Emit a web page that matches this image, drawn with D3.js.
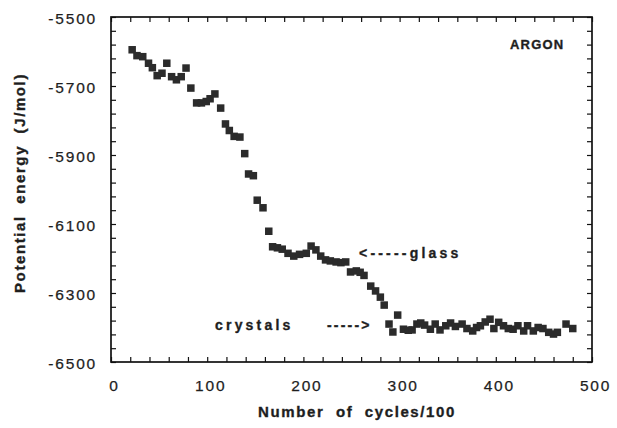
<!DOCTYPE html>
<html><head><meta charset="utf-8">
<script src="https://cdn.jsdelivr.net/npm/d3@7"></script>
<style>
html,body{margin:0;padding:0;background:#fff;}
svg{display:block;font-family:"Liberation Sans",Arial,Helvetica,sans-serif;}
</style></head>
<body>
<svg id="chart" width="617" height="428"></svg>
<script>
// Data
const cycles = [22,27,33,39,43,48,53,58,63,68,73,78,83,89,94,99,103,108,114,119,
  123,128,134,139,143,148,152,158,164,168,173,178,184,190,196,203,208,213,218,223,
  228,234,239,244,249,255,259,263,270,275,280,284,289,293,298,304,309,313,318,322,
  326,332,337,342,348,353,358,365,370,376,380,384,389,394,398,403,408,413,418,423,
  429,433,439,444,449,455,460,464,473,480];
const energy = [-5595,-5612,-5615,-5634,-5647,-5670,-5663,-5634,-5673,-5682,-5673,-5648,-5706,-5749,-5749,-5745,-5737,-5723,-5764,-5810,
  -5829,-5846,-5848,-5896,-5955,-5960,-6031,-6053,-6121,-6166,-6169,-6173,-6185,-6193,-6188,-6185,-6164,-6175,-6193,-6204,
  -6207,-6210,-6212,-6210,-6239,-6236,-6240,-6249,-6280,-6294,-6312,-6335,-6390,-6413,-6364,-6405,-6408,-6407,-6390,-6387,
  -6393,-6405,-6390,-6407,-6395,-6387,-6397,-6390,-6403,-6410,-6400,-6395,-6384,-6376,-6403,-6385,-6395,-6403,-6405,-6395,
  -6410,-6395,-6410,-6400,-6403,-6414,-6419,-6414,-6390,-6403];
const xTickLabels = [0,100,200,300,400,500];
const yTickLabels = [-5500,-5700,-5900,-6100,-6300,-6500];
const xTitle = "Number  of  cycles/100";
const yTitle = "Potential  energy  (J/mol)";
const labelArgon = "ARGON";
const labelGlass = "<-----glass";
const labelCrystals = "crystals";
const arrowCrystals = "----->";

const svg = d3.select("#chart");
const L = 111, R = 592, T = 17, B = 362;
const x = d3.scaleLinear().domain([0,500]).range([L,R]);
const y = d3.scaleLinear().domain([-6500,-5500]).range([B,T]);

const xTicks = d3.range(0,501,20);
const yTicks = d3.range(-6500,-5499,40);

const gb = svg.append("g").attr("transform",`translate(0,${B})`)
  .call(d3.axisBottom(x).tickValues(xTicks).tickSize(-5).tickPadding(18)
    .tickFormat(d => xTickLabels.includes(d) ? d : ""));
const gt = svg.append("g").attr("transform",`translate(0,${T})`)
  .call(d3.axisTop(x).tickValues(xTicks).tickSize(-5).tickFormat(""));
const gl = svg.append("g").attr("transform",`translate(${L},0)`)
  .call(d3.axisLeft(y).tickValues(yTicks).tickSize(-5).tickPadding(14)
    .tickFormat(d => yTickLabels.includes(d) ? d : ""));
const gr = svg.append("g").attr("transform",`translate(${R},0)`)
  .call(d3.axisRight(y).tickValues(yTicks).tickSize(-5).tickFormat(""));

[gb,gt,gl,gr].forEach(g => {
  g.select(".domain").remove();
  g.selectAll(".tick line").attr("stroke","#111").attr("stroke-width",1.2);
});
[gb,gl].forEach(g => g.selectAll(".tick text").attr("font-size",15.5).attr("fill","#1e1e1e")
  .attr("letter-spacing","1.8px").attr("stroke","#1e1e1e").attr("stroke-width",0.25)
  .attr("font-family","Liberation Sans, Arial, sans-serif"));
gb.selectAll(".tick text").attr("dx","3px");
gl.selectAll(".tick text").attr("dy","0.42em");

svg.append("rect").attr("x",L).attr("y",T).attr("width",R-L).attr("height",B-T)
  .attr("fill","none").attr("stroke","#111").attr("stroke-width",1.7);

const s = 7.5;
svg.append("g").selectAll("rect.pt").data(cycles.map((c,i)=>({c, e: energy[i]})))
  .join("rect").attr("class","pt")
  .attr("x", d => x(d.c) - s/2).attr("y", d => y(d.e) - s/2)
  .attr("width", s).attr("height", s).attr("fill","#2b2b2b");

function boldText(sel, size, ls){
  return sel.attr("font-size",size).attr("font-weight","bold").attr("letter-spacing",ls)
    .attr("fill","#1e1e1e").attr("stroke","#1e1e1e").attr("stroke-width",0.35)
    .style("white-space","pre");
}
boldText(svg.append("text").attr("x",357).attr("y",417).attr("text-anchor","middle"),15,"1.6px").text(xTitle);
boldText(svg.append("text").attr("transform","translate(25,183) rotate(-90)").attr("text-anchor","middle"),15,"1.6px").text(yTitle);

boldText(svg.append("text").attr("x",510).attr("y",49),13,"1.2px").text(labelArgon);
boldText(svg.append("text").attr("x",359).attr("y",258),14,"3.2px").text(labelGlass);
boldText(svg.append("text").attr("x",215).attr("y",330),14,"3.2px").text(labelCrystals);
boldText(svg.append("text").attr("x",327).attr("y",330),14,"2.2px").text(arrowCrystals);
</script>
</body></html>
